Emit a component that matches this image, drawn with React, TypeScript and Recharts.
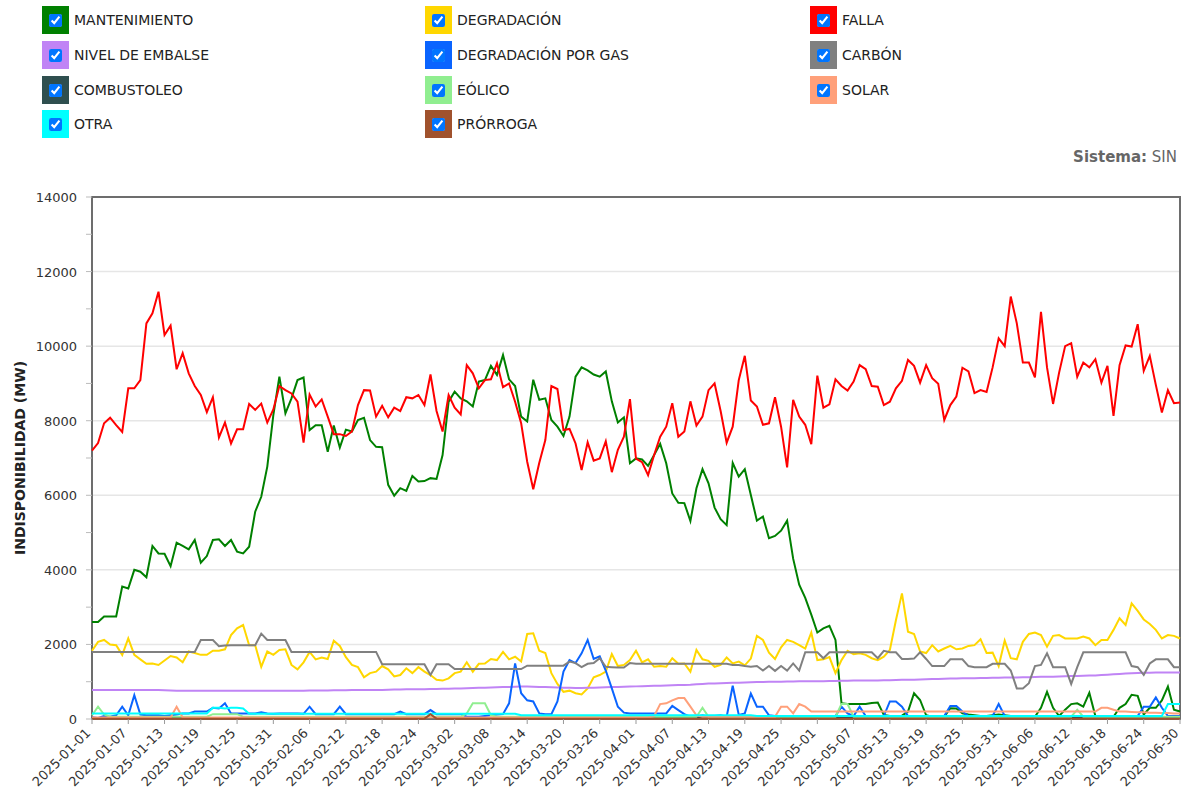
import React from 'react'
import { LineChart, Line, XAxis, YAxis, CartesianGrid, ReferenceArea } from 'recharts'

const dates: string[] = []
for (let i = 0; i < 181; i++) {
  dates.push(new Date(Date.UTC(2025, 0, 1 + i)).toISOString().slice(0, 10))
}

const falla = [
  7200, 7400, 7930, 8080, 7880, 7700, 8870, 8870, 9090, 10610,
  10880, 11460, 10300, 10550, 9380, 9810, 9270, 8930, 8690, 8230,
  8630, 7550, 7950, 7390, 7770, 7770, 8450, 8290, 8460, 7950,
  8300, 8930, 8820, 8730, 8510, 7410, 8700, 8380, 8570, 8110,
  7640, 7640, 7590, 7710, 8420, 8820, 8810, 8110, 8400, 8090,
  8350, 8260, 8630, 8600, 8690, 8420, 9240, 8260, 7710, 8690,
  8350, 8170, 9490, 9270, 8870, 9090, 9110, 9540, 8900, 9000,
  8510, 7930, 6900, 6160, 6870, 7480, 8930, 8850, 7750, 7780,
  7390, 6680, 7420, 6930, 6990, 7450, 6620, 7220, 7570, 8580,
  6980, 6890, 6540, 7080, 7570, 7840, 8470, 7570, 7710, 8520,
  7870, 8110, 8820, 9000, 8260, 7410, 7840, 9090, 9740, 8540,
  8380, 7890, 7930, 8630, 7840, 6750, 8560, 8110, 7890, 7370,
  9210, 8350, 8440, 9110, 8930, 8810, 9050, 9490, 9380, 8930,
  8910, 8420, 8510, 8870, 9070, 9630, 9470, 9020, 9490, 9140,
  8990, 8020, 8420, 8650, 9420, 9320, 8740, 8820, 8770, 9430,
  10210, 10000, 11330, 10610, 9560, 9560, 9160, 10920, 9430, 8450,
  9290, 10000, 10080, 9180, 9560, 9430, 9650, 9020, 9470, 8130,
  9490, 10020, 9990, 10590, 9340, 9740, 8960, 8220, 8820, 8470,
  8490,
]

const mantenimiento = [
  2600, 2600, 2750, 2750, 2750, 3550, 3500, 4000, 3950, 3800,
  4640, 4440, 4430, 4100, 4730, 4640, 4550, 4800, 4190, 4370,
  4800, 4820, 4640, 4800, 4490, 4440, 4620, 5560, 5960, 6770,
  8150, 9180, 8200, 8600, 9090, 9160, 7750, 7880, 7880, 7170,
  7870, 7280, 7760, 7710, 8020, 8080, 7480, 7300, 7290, 6280,
  5990, 6190, 6120, 6520, 6370, 6380, 6460, 6440, 7080, 8510,
  8780, 8600, 8520, 8380, 9050, 9090, 9470, 9230, 9760, 9110,
  8930, 8110, 7980, 9100, 8560, 8600, 8020, 7840, 7590, 8110,
  9180, 9430, 9350, 9240, 9180, 9320, 8520, 7950, 8090, 6860,
  6990, 6960, 6790, 7080, 7380, 6860, 6050, 5800, 5790, 5310,
  6190, 6700, 6320, 5670, 5360, 5200, 6870, 6500, 6700, 6010,
  5320, 5430, 4850, 4910, 5050, 5320, 4300, 3600, 3250, 2800,
  2320, 2430, 2500, 2120, 420, 400, 400, 400, 400, 430,
  440, 110, 80, 80, 90, 200, 690, 510, 100, 60,
  60, 60, 290, 280, 150, 120, 100, 80, 80, 100,
  120, 100, 80, 60, 60, 60, 60, 300, 730, 300,
  80, 250, 400, 420, 330, 700, 80, 60, 60, 60,
  300, 400, 650, 620, 120, 300, 300, 500, 870, 250,
  200,
]

const degradacion = [
  1830, 2070, 2120, 2000, 1980, 1720, 2160, 1720, 1600, 1480,
  1490, 1450, 1570, 1690, 1650, 1520, 1810, 1770, 1720, 1720,
  1830, 1830, 1870, 2250, 2430, 2520, 1980, 1980, 1400, 1810,
  1720, 1850, 1870, 1450, 1330, 1520, 1800, 1600, 1650, 1610,
  2100, 1960, 1660, 1450, 1390, 1120, 1230, 1270, 1420, 1330,
  1140, 1180, 1360, 1230, 1390, 1270, 1180, 1050, 1030, 1090,
  1230, 1270, 1520, 1270, 1480, 1490, 1610, 1580, 1800, 1600,
  1670, 1540, 2280, 2300, 1830, 1770, 1230, 940, 730, 760,
  690, 660, 820, 1120, 1180, 1270, 1740, 1420, 1450, 1580,
  1830, 1520, 1600, 1400, 1420, 1400, 1630, 1480, 1490, 1270,
  1850, 1600, 1560, 1400, 1450, 1650, 1490, 1540, 1440, 1620,
  2230, 2120, 1780, 1610, 1920, 2120, 2070, 1980, 1890, 2320,
  1580, 1600, 1660, 1230, 1580, 1830, 1740, 1760, 1720, 1630,
  1580, 1670, 1850, 2650, 3370, 2340, 2280, 1810, 1770, 1980,
  1810, 1890, 1960, 1870, 1890, 1960, 1980, 2140, 1770, 1780,
  1420, 2100, 1630, 1600, 2070, 2280, 2320, 2250, 1940, 2230,
  2250, 2160, 2160, 2160, 2210, 2160, 1980, 2120, 2120, 2390,
  2700, 2520, 3100, 2900, 2670, 2550, 2390, 2160, 2250, 2230,
  2160,
]

const carbon = [
  1800, 1800, 1800, 1800, 1800, 1800, 1800, 1800, 1800, 1800,
  1800, 1800, 1800, 1800, 1800, 1800, 1800, 1800, 2120, 2120,
  2120, 1950, 1970, 1980, 1980, 1980, 1980, 1980, 2290, 2120,
  2120, 2120, 2120, 1800, 1800, 1800, 1800, 1800, 1800, 1800,
  1800, 1800, 1800, 1800, 1800, 1800, 1800, 1800, 1470, 1470,
  1470, 1470, 1470, 1470, 1470, 1470, 1180, 1470, 1470, 1470,
  1340, 1340, 1340, 1340, 1340, 1340, 1340, 1340, 1340, 1340,
  1340, 1340, 1430, 1430, 1430, 1430, 1430, 1430, 1430, 1540,
  1500, 1390, 1480, 1500, 1630, 1400, 1390, 1380, 1380, 1500,
  1480, 1480, 1480, 1480, 1480, 1480, 1480, 1480, 1480, 1480,
  1480, 1480, 1480, 1480, 1480, 1480, 1450, 1450, 1420, 1400,
  1420, 1300, 1420, 1290, 1420, 1300, 1490, 1300, 1790, 1790,
  1790, 1630, 1790, 1790, 1790, 1790, 1790, 1790, 1790, 1790,
  1630, 1830, 1790, 1790, 1610, 1610, 1620, 1790, 1610, 1420,
  1420, 1420, 1600, 1600, 1600, 1420, 1390, 1390, 1390, 1480,
  1480, 1480, 1300, 820, 820, 960, 1420, 1450, 1760, 1390,
  1390, 1390, 940, 1390, 1790, 1790, 1790, 1790, 1790, 1790,
  1790, 1790, 1420, 1390, 1180, 1490, 1600, 1600, 1600, 1390,
  1390,
]

const embalse = [
  780, 780, 780, 780, 780, 780, 780, 780, 780, 780,
  775, 775, 770, 765, 760, 760, 760, 760, 760, 760,
  760, 760, 760, 760, 760, 760, 760, 760, 760, 760,
  760, 760, 760, 760, 760, 760, 765, 765, 765, 765,
  770, 770, 770, 775, 775, 775, 780, 780, 780, 785,
  790, 790, 795, 795, 800, 800, 805, 805, 810, 810,
  815, 820, 825, 830, 835, 840, 845, 850, 855, 860,
  865, 870, 870, 865, 860, 855, 850, 845, 840, 835,
  830, 830, 835, 840, 845, 850, 855, 860, 865, 870,
  875, 880, 885, 890, 895, 900, 905, 910, 915, 920,
  930, 940, 950, 955, 960, 965, 970, 975, 980, 985,
  990, 995, 1000, 1000, 1000, 1005, 1005, 1010, 1010, 1010,
  1015, 1015, 1020, 1020, 1025, 1025, 1030, 1030, 1030, 1035,
  1035, 1040, 1040, 1045, 1050, 1050, 1055, 1060, 1065, 1070,
  1075, 1080, 1085, 1085, 1090, 1090, 1095, 1100, 1100, 1105,
  1105, 1110, 1110, 1115, 1120, 1120, 1125, 1130, 1130, 1135,
  1140, 1145, 1150, 1155, 1160, 1165, 1170, 1180, 1190, 1200,
  1210, 1220, 1230, 1235, 1240, 1240, 1245, 1245, 1245, 1250,
  1250,
]

const gas = [
  50, 30, 80, 60, 100, 330, 100, 640, 120, 100,
  100, 100, 80, 100, 120, 150, 150, 200, 200, 200,
  300, 280, 420, 150, 150, 150, 150, 150, 180, 150,
  140, 150, 150, 150, 150, 140, 330, 130, 130, 130,
  130, 330, 130, 130, 130, 130, 130, 130, 130, 130,
  130, 200, 130, 130, 130, 130, 240, 130, 130, 130,
  130, 130, 60, 60, 60, 80, 100, 120, 130, 420,
  1490, 690, 500, 470, 150, 130, 130, 470, 1270, 1580,
  1500, 1760, 2120, 1610, 1680, 1300, 820, 330, 170, 150,
  150, 150, 150, 150, 150, 150, 350, 240, 130, 60,
  60, 100, 60, 80, 100, 60, 890, 110, 150, 680,
  330, 330, 100, 80, 80, 80, 80, 80, 80, 80,
  80, 80, 80, 80, 330, 150, 80, 330, 80, 80,
  80, 80, 470, 470, 330, 80, 80, 80, 80, 80,
  80, 80, 350, 350, 200, 80, 80, 80, 80, 80,
  400, 80, 80, 80, 80, 80, 80, 80, 80, 80,
  80, 80, 80, 80, 80, 80, 80, 80, 80, 80,
  80, 80, 80, 80, 330, 330, 580, 300, 80, 80,
  80,
]

const combustoleo = [
  30, 30, 30, 30, 30, 30, 30, 30, 30, 30,
  30, 30, 30, 30, 30, 30, 30, 30, 30, 30,
  30, 30, 30, 30, 30, 30, 30, 30, 30, 30,
  30, 30, 30, 30, 30, 30, 30, 30, 30, 30,
  30, 30, 30, 30, 30, 30, 30, 30, 30, 30,
  30, 30, 30, 30, 30, 30, 30, 30, 30, 30,
  30, 30, 30, 30, 30, 30, 30, 30, 30, 30,
  30, 30, 30, 30, 30, 30, 30, 30, 30, 30,
  30, 30, 30, 30, 30, 30, 30, 30, 30, 30,
  30, 30, 30, 30, 30, 30, 30, 30, 30, 30,
  30, 30, 30, 30, 30, 30, 30, 30, 30, 30,
  30, 30, 30, 30, 30, 30, 30, 30, 30, 30,
  30, 30, 30, 30, 30, 30, 30, 30, 30, 30,
  30, 30, 30, 30, 30, 30, 30, 30, 30, 30,
  30, 30, 30, 30, 30, 30, 30, 30, 30, 30,
  30, 30, 30, 30, 30, 30, 30, 30, 30, 30,
  30, 30, 30, 30, 30, 30, 30, 30, 30, 30,
  30, 30, 30, 30, 30, 30, 30, 30, 30, 30,
  30,
]

const eolico = [
  100, 330, 120, 60, 60, 60, 60, 60, 60, 60,
  60, 60, 60, 60, 60, 60, 60, 60, 60, 60,
  130, 130, 130, 130, 130, 60, 60, 60, 60, 60,
  60, 60, 60, 60, 60, 60, 60, 60, 60, 60,
  60, 60, 60, 60, 60, 60, 60, 60, 60, 60,
  60, 60, 60, 60, 60, 60, 60, 60, 60, 60,
  60, 60, 150, 420, 420, 420, 100, 60, 60, 60,
  60, 60, 60, 60, 60, 60, 60, 60, 60, 60,
  60, 60, 60, 60, 60, 60, 60, 60, 60, 60,
  60, 60, 60, 60, 60, 60, 60, 60, 60, 60,
  60, 300, 60, 60, 60, 60, 60, 60, 60, 60,
  60, 60, 60, 60, 60, 60, 60, 60, 60, 60,
  60, 60, 60, 60, 400, 400, 60, 60, 60, 60,
  60, 60, 60, 60, 60, 60, 60, 60, 60, 60,
  60, 60, 60, 60, 60, 60, 60, 60, 60, 60,
  60, 60, 60, 60, 60, 60, 60, 60, 60, 60,
  60, 60, 60, 250, 60, 60, 60, 60, 60, 60,
  60, 60, 60, 60, 60, 60, 60, 60, 60, 60,
  60,
]

const solar = [
  40, 40, 40, 40, 40, 40, 40, 40, 40, 40,
  40, 40, 40, 40, 330, 40, 40, 40, 40, 40,
  40, 40, 40, 40, 40, 40, 40, 40, 40, 40,
  40, 40, 40, 40, 40, 40, 40, 40, 40, 40,
  40, 40, 40, 40, 40, 40, 40, 40, 40, 40,
  40, 40, 40, 40, 40, 40, 40, 40, 40, 40,
  40, 40, 40, 40, 40, 40, 40, 40, 40, 40,
  40, 40, 40, 40, 40, 40, 40, 40, 40, 40,
  40, 40, 40, 40, 40, 40, 40, 40, 40, 40,
  40, 40, 40, 80, 400, 420, 500, 560, 560, 330,
  100, 60, 60, 60, 60, 60, 60, 60, 60, 60,
  60, 60, 60, 60, 330, 330, 150, 400, 330, 200,
  200, 200, 200, 200, 200, 200, 200, 200, 200, 200,
  200, 200, 200, 200, 200, 200, 200, 200, 200, 200,
  200, 200, 200, 200, 200, 200, 200, 200, 200, 200,
  200, 200, 200, 200, 200, 200, 200, 200, 200, 200,
  200, 200, 200, 200, 200, 200, 200, 300, 300, 250,
  200, 200, 190, 180, 180, 170, 170, 160, 160, 150,
  150,
]

const otra = [
  150, 150, 150, 150, 150, 150, 150, 150, 150, 150,
  150, 150, 150, 150, 150, 150, 150, 150, 150, 150,
  300, 300, 280, 300, 300, 280, 140, 140, 140, 140,
  140, 140, 140, 140, 140, 140, 140, 140, 140, 140,
  140, 140, 140, 140, 140, 140, 140, 140, 140, 140,
  140, 140, 140, 140, 140, 140, 140, 140, 140, 140,
  140, 140, 140, 140, 140, 140, 140, 140, 140, 140,
  140, 100, 100, 100, 100, 100, 100, 100, 100, 100,
  100, 100, 100, 100, 100, 100, 100, 100, 100, 100,
  100, 100, 100, 100, 100, 100, 100, 100, 100, 100,
  100, 100, 100, 100, 100, 100, 100, 100, 100, 100,
  80, 80, 80, 80, 80, 80, 80, 80, 80, 80,
  80, 80, 80, 80, 80, 80, 80, 80, 80, 80,
  80, 80, 80, 80, 80, 80, 80, 80, 80, 80,
  80, 80, 80, 80, 80, 80, 80, 80, 80, 80,
  80, 80, 80, 80, 80, 80, 80, 80, 80, 80,
  80, 80, 80, 80, 80, 80, 80, 80, 80, 80,
  80, 80, 80, 80, 80, 80, 80, 80, 400, 400,
  400,
]

const prorroga = [
  10, 10, 10, 10, 10, 10, 10, 10, 10, 10,
  10, 10, 10, 10, 10, 10, 10, 10, 10, 10,
  10, 10, 10, 10, 10, 10, 10, 10, 10, 10,
  10, 10, 10, 10, 10, 10, 10, 10, 10, 10,
  10, 10, 10, 10, 10, 10, 10, 10, 10, 10,
  10, 10, 10, 10, 10, 10, 130, 10, 10, 10,
  10, 10, 10, 10, 10, 10, 10, 10, 10, 10,
  10, 10, 10, 10, 10, 10, 10, 10, 10, 10,
  10, 10, 10, 10, 10, 10, 10, 10, 10, 10,
  10, 10, 10, 10, 10, 10, 10, 10, 10, 10,
  10, 10, 10, 10, 10, 10, 10, 10, 10, 10,
  10, 10, 10, 10, 10, 10, 10, 10, 10, 10,
  10, 10, 10, 10, 10, 10, 10, 10, 10, 10,
  10, 10, 10, 10, 10, 10, 10, 10, 10, 10,
  10, 10, 10, 10, 10, 10, 10, 10, 10, 10,
  10, 10, 10, 10, 10, 10, 10, 10, 10, 10,
  10, 10, 10, 10, 10, 10, 10, 10, 10, 10,
  10, 10, 10, 10, 10, 10, 10, 10, 10, 10,
  10,
]

const yTicks = [0, 500, 1000, 1500, 2000, 2500, 3000, 3500, 4000, 4500, 5000, 5500, 6000, 6500, 7000,
  7500, 8000, 8500, 9000, 9500, 10000, 10500, 11000, 11500, 12000, 12500, 13000, 13500, 14000]
const gridValues = [0, 2000, 4000, 6000, 8000, 10000, 12000, 14000]

// legend order = draw order
const series = [
  { key: 'mant', name: 'MANTENIMIENTO', color: '#008000', values: mantenimiento },
  { key: 'degr', name: 'DEGRADACIÓN', color: '#ffd700', values: degradacion },
  { key: 'falla', name: 'FALLA', color: '#ff0000', values: falla },
  { key: 'emb', name: 'NIVEL DE EMBALSE', color: '#c084f5', values: embalse },
  { key: 'gas', name: 'DEGRADACIÓN POR GAS', color: '#0a64ff', values: gas },
  { key: 'carb', name: 'CARBÓN', color: '#808080', values: carbon },
  { key: 'comb', name: 'COMBUSTOLEO', color: '#2f4f4f', values: combustoleo },
  { key: 'eol', name: 'EÓLICO', color: '#90ee90', values: eolico },
  { key: 'sol', name: 'SOLAR', color: '#ffa07a', values: solar },
  { key: 'otra', name: 'OTRA', color: '#00ffff', values: otra },
  { key: 'pro', name: 'PRÓRROGA', color: '#a0522d', values: prorroga },
]

const data = dates.map((d, i) => {
  const row: any = { date: d }
  series.forEach((s) => { row[s.key] = s.values[i] })
  return row
})

const YTick = ({ x, y, payload }: any) => (
  <g>
    {payload.value % 2000 === 0 ? (
      <text x={x} y={y} dy={5} textAnchor="end" fill="#333" fontSize={13}>{payload.value}</text>
    ) : null}
  </g>
)

const XTick = ({ x, y, payload }: any) => (
  <g transform={`translate(${x},${y})`}>
    <text x={0} y={0} dx={-6} dy={5} textAnchor="end" transform="rotate(-45)" fill="#333" fontSize={13}>
      {payload.value}
    </text>
  </g>
)

const colX = [42, 425, 810]
const rowY = [6, 41, 76, 110]

const Legend = () => (
  <>
    {series.map((s, i) => (
      <div
        key={s.key}
        style={{
          position: 'absolute', left: colX[i % 3], top: rowY[Math.floor(i / 3)],
          display: 'flex', alignItems: 'center', height: 28,
        }}
      >
        <div style={{ width: 27, height: 28, background: s.color, display: 'flex', alignItems: 'center', justifyContent: 'center' }}>
          <input type="checkbox" checked readOnly style={{ margin: 0, width: 13, height: 13 }} />
        </div>
        <span style={{ marginLeft: 5, fontSize: 14, color: '#222' }}>{s.name}</span>
      </div>
    ))}
  </>
)

export default function App() {
  return (
    <div style={{ position: 'absolute', left: 0, top: 0, width: 1184, height: 801, fontFamily: '"DejaVu Sans", Verdana, sans-serif', background: '#fff' }}>
      <LineChart width={1184} height={801} data={data} margin={{ top: 197, right: 4, left: 32, bottom: 2 }}>
        <CartesianGrid vertical={false} horizontalValues={gridValues} stroke="#e6e6e6" strokeWidth={1.5} />
        <XAxis
          dataKey="date" interval={5} height={80} tick={<XTick />}
          tickLine={{ stroke: '#999' }} tickSize={5} axisLine={false}
        />
        <YAxis
          domain={[0, 14000]} ticks={yTicks} width={60} tick={<YTick />}
          tickLine={{ stroke: '#bbb' }} tickSize={6} tickMargin={9} axisLine={false}
        />
        <ReferenceArea x1={dates[0]} x2={dates[180]} y1={0} y2={14000} fill="none" stroke="#6d6d6d" strokeWidth={2} fillOpacity={0} />
        {series.map((s) => (
          <Line key={s.key} type="linear" dataKey={s.key} name={s.name} stroke={s.color} strokeWidth={2} dot={false} isAnimationActive={false} />
        ))}
      </LineChart>
      <Legend />
      <div style={{ position: 'absolute', right: 7, top: 148, fontSize: 15, color: '#666' }}>
        <b>Sistema:</b> SIN
      </div>
      <div
        style={{
          position: 'absolute', left: 20, top: 458, transform: 'translate(-50%, -50%) rotate(-90deg)',
          whiteSpace: 'nowrap', fontSize: 14, fontWeight: 'bold', color: '#222',
        }}
      >
        INDISPONIBILIDAD (MW)
      </div>
    </div>
  )
}
